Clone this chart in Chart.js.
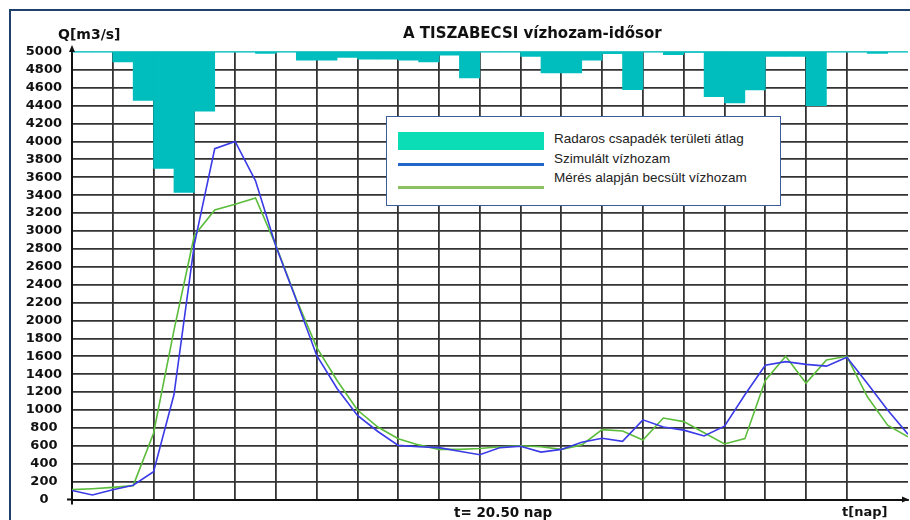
<!DOCTYPE html>
<html>
<head>
<meta charset="utf-8">
<script src="https://cdn.jsdelivr.net/npm/chart.js@4.4.1/dist/chart.umd.min.js"></script>
<style>
  html, body { margin: 0; padding: 0; background: #fff; }
  #wrap { position: relative; width: 910px; height: 520px; overflow: hidden; font-family: "DejaVu Sans", sans-serif; }
  #frame { position: absolute; left: 9px; top: 9px; width: 960px; height: 600px;
           border-left: 2.5px solid #20406e; border-top: 2.5px solid #20406e; }
  canvas { position: absolute; left: 0; top: 0; }
  .lbl { position: absolute; font-weight: bold; color: #111; white-space: nowrap; line-height: 18px; }
  #title { left: 403px; top: 24px; font-size: 15px; }
  #qlabel { left: 58px; top: 25px; font-size: 14px; }
  #tnow { left: 454px; top: 503px; font-size: 13.5px; }
  #tunit { left: 842px; top: 503px; font-size: 13px; }
  #legend { position: absolute; left: 386px; top: 116px; width: 393px; height: 88px;
            border: 1.5px solid #3c5e98; background: #fff; font-family: "Liberation Sans", Arial, sans-serif; }
  #legend .sw { position: absolute; left: 11px; width: 146px; }
  #legend .tx { position: absolute; left: 167px; font-size: 13.5px; line-height: 16px; color: #222; white-space: nowrap; }
</style>
</head>
<body>
<div id="wrap">
  <div id="frame"></div>
  <canvas id="chart" width="910" height="520"></canvas>
  <div class="lbl" id="title">A TISZABECSI vízhozam-idősor</div>
  <div class="lbl" id="qlabel">Q[m3/s]</div>
  <div class="lbl" id="tnow">t= 20.50 nap</div>
  <div class="lbl" id="tunit">t[nap]</div>
  <div id="legend"></div>
</div>
<script>
// time axis (days), one point every half day
const days = [0, 0.5, 1, 1.5, 2, 2.5, 3, 3.5, 4, 4.5, 5, 5.5, 6, 6.5, 7, 7.5, 8, 8.5, 9, 9.5,
              10, 10.5, 11, 11.5, 12, 12.5, 13, 13.5, 14, 14.5, 15, 15.5, 16, 16.5, 17, 17.5,
              18, 18.5, 19, 19.5, 20, 20.5];

// simulated discharge (blue)
const simulated = [100, 50, 110, 160, 310, 1170, 2850, 3920, 4000, 3560, 2830, 2230, 1610, 1240,
                   940, 760, 605, 590, 580, 540, 500, 580, 595, 530, 560, 640, 685, 650, 890, 810,
                   775, 710, 820, 1170, 1500, 1540, 1510, 1490, 1590, 1300, 1000, 730];

// discharge estimated from measurements (green)
const measured = [110, 120, 135, 155, 740, 1890, 2950, 3235, 3300, 3370, 2840, 2240, 1700, 1330,
                  1000, 810, 680, 610, 560, 560, 570, 590, 600, 590, 560, 610, 780, 765, 665, 910,
                  870, 745, 620, 680, 1330, 1600, 1300, 1560, 1600, 1150, 830, 700];

// radar rainfall: start of each half-day interval and the level the bar hangs down to
const rainStart = [0, 0.5, 1, 1.5, 2, 2.5, 3, 3.5, 4, 4.5, 5, 5.5, 6, 6.5, 7, 7.5, 8, 8.5, 9, 9.5,
                   10, 10.5, 11, 11.5, 12, 12.5, 13, 13.5, 14, 14.5, 15, 15.5, 16, 16.5, 17, 17.5,
                   18, 18.5, 19, 19.5, 20];
const rainLevel = [5000, 5000, 4890, 4460, 3700, 3430, 4340, 5000, 5000, 4985, 5000, 4910, 4910, 4940,
                   4920, 4920, 4910, 4890, 4965, 4710, 5000, 5000, 4950, 4765, 4765, 4910, 4980, 4580,
                   5000, 4970, 4995, 4500, 4430, 4575, 4950, 4950, 4400, 5000, 5000, 4985, 5000];

const Q_MAX = 5000;
const T_MAX = 20.5;

const gridColor = '#333';

// small arrow heads at the ends of the axes
const axisArrows = {
  id: 'axisArrows',
  afterDraw(chart) {
    const { ctx, chartArea: a } = chart;
    ctx.save();
    ctx.fillStyle = '#111';
    ctx.beginPath();
    ctx.moveTo(a.left, a.top - 7);
    ctx.lineTo(a.left - 3, a.top);
    ctx.lineTo(a.left + 3, a.top);
    ctx.fill();
    ctx.beginPath();
    ctx.moveTo(a.right + 1, a.bottom);
    ctx.lineTo(a.right - 6, a.bottom - 3);
    ctx.lineTo(a.right - 6, a.bottom + 3);
    ctx.fill();
    ctx.strokeStyle = '#111';
    ctx.lineWidth = 2;
    ctx.beginPath();
    ctx.moveTo(a.left - 5, a.bottom);
    ctx.lineTo(a.left, a.bottom);
    ctx.lineTo(a.left, a.bottom + 5);
    ctx.stroke();
    ctx.restore();
  }
};

const ctx = document.getElementById('chart').getContext('2d');
const chart = new Chart(ctx, {
  type: 'line',
  data: {
    datasets: [
      {
        type: 'line',
        label: 'Szimulált vízhozam',
        data: days.map((d, i) => ({ x: d, y: simulated[i] })),
        borderColor: '#3a3ae6',
        borderWidth: 1.6,
        pointRadius: 0,
        tension: 0,
        order: 0
      },
      {
        type: 'line',
        label: 'Mérés alapján becsült vízhozam',
        data: days.map((d, i) => ({ x: d, y: measured[i] })),
        borderColor: '#5cbc3c',
        borderWidth: 1.6,
        pointRadius: 0,
        tension: 0,
        order: 1
      },
      {
        type: 'bar',
        label: 'Radaros csapadék területi átlag',
        data: rainStart.map((d, i) => ({ x: d + 0.25, y: [rainLevel[i], Q_MAX] })),
        backgroundColor: '#00bebe',
        borderWidth: 0,
        barPercentage: 1,
        categoryPercentage: 1,
        order: 2
      }
    ]
  },
  options: {
    responsive: false,
    devicePixelRatio: 1,
    animation: false,
    events: [],
    layout: { padding: { top: 52, right: 2, bottom: 20.5, left: 0 } },
    plugins: {
      legend: { display: false },
      tooltip: { enabled: false }
    },
    scales: {
      x: {
        type: 'linear',
        min: 0,
        max: T_MAX,
        offset: false,
        grid: {
          offset: false,
          drawTicks: false,
          lineWidth: 1.8,
          color: c => (c.tick && c.tick.value === T_MAX) ? 'rgba(0,0,0,0)' : gridColor
        },
        border: { display: true, color: '#111', width: 2 },
        ticks: { stepSize: 1, display: false, autoSkip: false },
        afterFit: s => { s.height = 0; }
      },
      y: {
        type: 'linear',
        min: 0,
        max: Q_MAX,
        grid: {
          drawTicks: false,
          lineWidth: c => (c.tick && c.tick.value === Q_MAX) ? 1.5 : 1.8,
          color: c => (c.tick && c.tick.value === Q_MAX) ? '#30c8c8' : gridColor
        },
        border: { display: true, color: '#111', width: 2 },
        ticks: {
          stepSize: 200,
          autoSkip: false,
          padding: 10,
          crossAlign: 'center',
          color: '#111',
          font: { family: 'DejaVu Sans', weight: 'bold', size: 13 },
          callback: v => String(v)
        },
        afterFit: s => { s.width = 72; }
      }
    }
  },
  plugins: [axisArrows]
});

// legend box, built from the dataset labels
const ds = chart.data.datasets;
const legendRows = [
  { label: ds[2].label, swatch: 'top:15px;height:18px;background:#0bddb6;', textTop: 14 },
  { label: ds[0].label, swatch: 'top:46px;height:2.5px;background:#2266c8;', textTop: 34 },
  { label: ds[1].label, swatch: 'top:69px;height:2.5px;background:#8cc062;', textTop: 53 }
];
const legendEl = document.getElementById('legend');
legendRows.forEach(r => {
  const sw = document.createElement('div');
  sw.className = 'sw';
  sw.style.cssText = r.swatch;
  legendEl.appendChild(sw);
  const tx = document.createElement('div');
  tx.className = 'tx';
  tx.style.top = r.textTop + 'px';
  tx.textContent = r.label;
  legendEl.appendChild(tx);
});
</script>
</body>
</html>
